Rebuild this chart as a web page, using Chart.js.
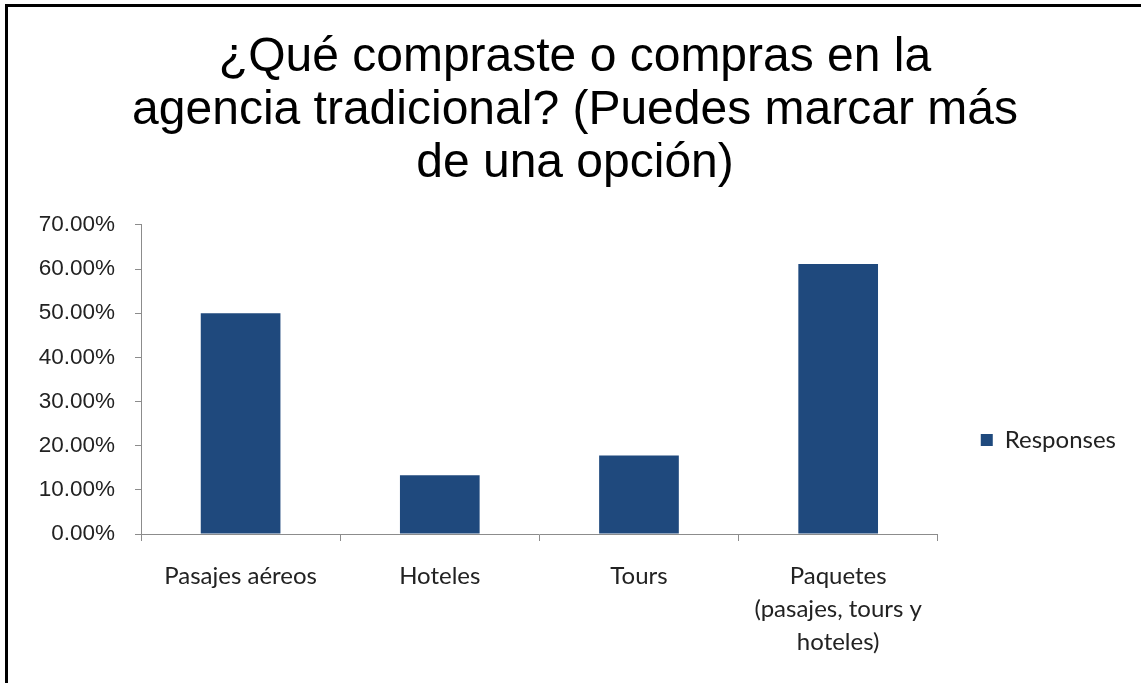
<!DOCTYPE html>
<html>
<head>
<meta charset="utf-8">
<script src="https://cdn.jsdelivr.net/npm/chart.js@4.4.1/dist/chart.umd.min.js"></script>
<style>
  html, body { margin: 0; padding: 0; background: #fff; overflow: hidden; }
  #frame {
    position: absolute; left: 5px; top: 4px;
    width: 1200px; height: 760px;
    border: 3px solid #000; box-sizing: border-box;
  }
  #wrap { position: absolute; left: 0; top: 0; width: 1141px; height: 683px; }
</style>
</head>
<body>
<div id="frame"></div>
<div id="wrap"><canvas id="chart" width="1141" height="683"></canvas></div>
<script>
const titleLines = ['¿Qué compraste o compras en la', 'agencia tradicional? (Puedes marcar más', 'de una opción)'];
const categories = [
  'Pasajes aéreos',
  'Hoteles',
  'Tours',
  ['Paquetes', '(pasajes, tours y', 'hoteles)']
];
const seriesName = 'Responses';
const responses = [50.00, 13.33, 17.78, 61.11];
const yTicks = [0, 10, 20, 30, 40, 50, 60, 70];

const axisGray = '#8c8c8c';
const barBlue = '#1f497d';
const textColor = '#222';
const labelFont = { family: 'Lato, "Open Sans", sans-serif', size: 24 };

const ctx = document.getElementById('chart').getContext('2d');
new Chart(ctx, {
  type: 'bar',
  data: {
    labels: categories,
    datasets: [{
      label: seriesName,
      data: responses,
      backgroundColor: barBlue,
      borderWidth: 0,
      barPercentage: 0.4,
      categoryPercentage: 1.0
    }]
  },
  options: {
    responsive: false,
    animation: false,
    layout: { padding: { left: 24, right: 15, top: 31, bottom: 5 } },
    plugins: {
      tooltip: { enabled: false },
      title: {
        display: true,
        text: titleLines,
        color: '#000',
        font: { family: '"Liberation Sans", Arial, sans-serif', size: 48, weight: 'normal', lineHeight: 1.11 },
        padding: { top: 0, bottom: 34 }
      },
      legend: {
        display: true,
        position: 'right',
        // empty title only pushes the single entry down
        title: { display: true, text: '', font: { size: 10 }, padding: { top: 159, bottom: 0 } },
        labels: {
          color: textColor,
          font: labelFont,
          boxWidth: 12,
          boxHeight: 12,
          padding: 43
        }
      }
    },
    scales: {
      x: {
        grid: {
          display: true,
          offset: true,
          drawOnChartArea: false,
          drawTicks: true,
          tickLength: 7,
          color: axisGray
        },
        border: { display: true, color: axisGray, width: 1 },
        ticks: {
          color: textColor,
          font: { ...labelFont, lineHeight: 1.375 },
          padding: 19,
          maxRotation: 0,
          autoSkip: false
        }
      },
      y: {
        min: 0,
        max: 70,
        afterFit: (scale) => { scale.width = 117; },
        afterBuildTicks: (scale) => { scale.ticks = yTicks.map(v => ({ value: v })); },
        grid: {
          display: true,
          drawOnChartArea: false,
          drawTicks: true,
          tickLength: 6,
          color: axisGray
        },
        border: { display: true, color: axisGray, width: 1 },
        ticks: {
          color: textColor,
          font: { family: '"Liberation Sans", Arial, sans-serif', size: 22.5 },
          padding: 20,
          callback: (v) => Number(v).toFixed(2) + '%'
        }
      }
    }
  }
});
</script>
</body>
</html>
